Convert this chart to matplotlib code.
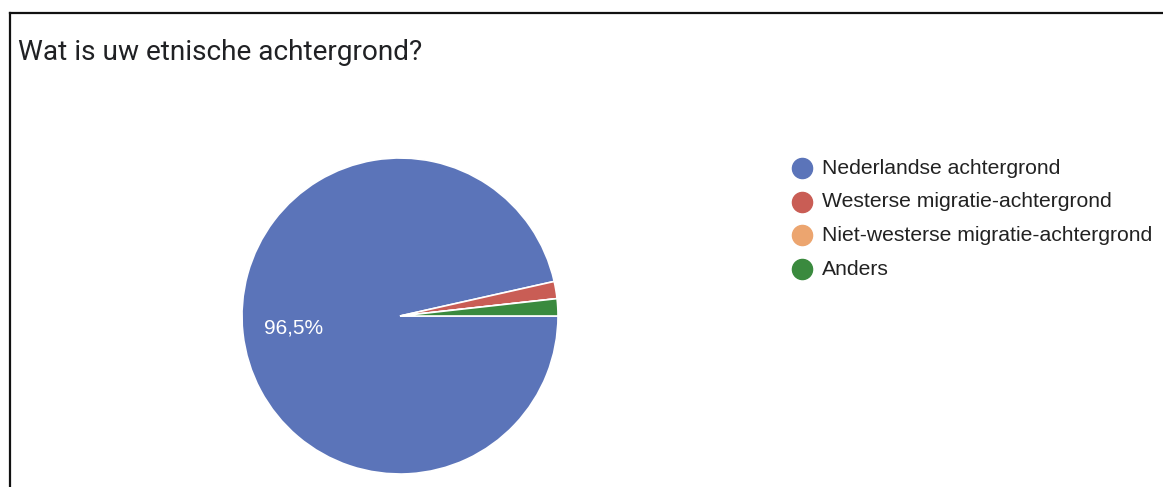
import matplotlib
matplotlib.use("Agg")
import matplotlib.pyplot as plt
from matplotlib.lines import Line2D

# ----------------------------
# Data
# ----------------------------
title = "Wat is uw etnische achtergrond?"
categories = [
    "Nederlandse achtergrond",
    "Westerse migratie-achtergrond",
    "Niet-westerse migratie-achtergrond",
    "Anders",
]
counts = [55, 1, 0, 1]
colors = ["#5b74b9", "#c95d55", "#eca56f", "#3a8a3e"]

W, H = 1163, 487
fig = plt.figure(figsize=(W / 100, H / 100), dpi=100)
fig.patch.set_facecolor("white")

# pie axes: centre (400, 316) px from top-left, radius 158 px
cx, cy, r = 400, 316, 158
ax = fig.add_axes([(cx - r) / W, (H - cy - r) / H, 2 * r / W, 2 * r / H])


def pct_label(p):
    # only the big slice gets a label, Dutch decimal comma
    return f"{p:.1f}%".replace(".", ",") if p > 5 else ""


wedges, texts, autotexts = ax.pie(
    counts, colors=colors, startangle=0, counterclock=False,
    autopct=pct_label, pctdistance=0.68,
    wedgeprops=dict(edgecolor="white", linewidth=1.2),
    textprops=dict(color="white", fontsize=15, family="Liberation Sans"),
)
ax.set_xlim(-1, 1)
ax.set_ylim(-1, 1)
ax.axis("off")

# title
fig.text(18 / W, 1 - 53 / H, title, fontsize=20.2, family="Roboto",
         color="#202124", va="center", ha="left")

# legend, drawn by hand (circle markers)
leg_x, leg_y0, step = 802, 168, 33.7
for i, (lab, col) in enumerate(zip(categories, colors)):
    y = 1 - (leg_y0 + i * step) / H
    fig.add_artist(Line2D([leg_x / W], [y], marker="o", markersize=14.5,
                          color=col, linestyle="none", transform=fig.transFigure))
    fig.text((leg_x + 20) / W, y, lab, fontsize=15.2, family="Liberation Sans",
             color="#222222", va="center", ha="left")

# screenshot border (top + left)
fig.add_artist(Line2D([9.5 / W, 1], [1 - 13 / H, 1 - 13 / H], color="#111111",
                      linewidth=1.6, transform=fig.transFigure))
fig.add_artist(Line2D([9.5 / W, 9.5 / W], [0, 1 - 13 / H], color="#111111",
                      linewidth=1.6, transform=fig.transFigure))

fig.savefig("out.png", dpi=100)
